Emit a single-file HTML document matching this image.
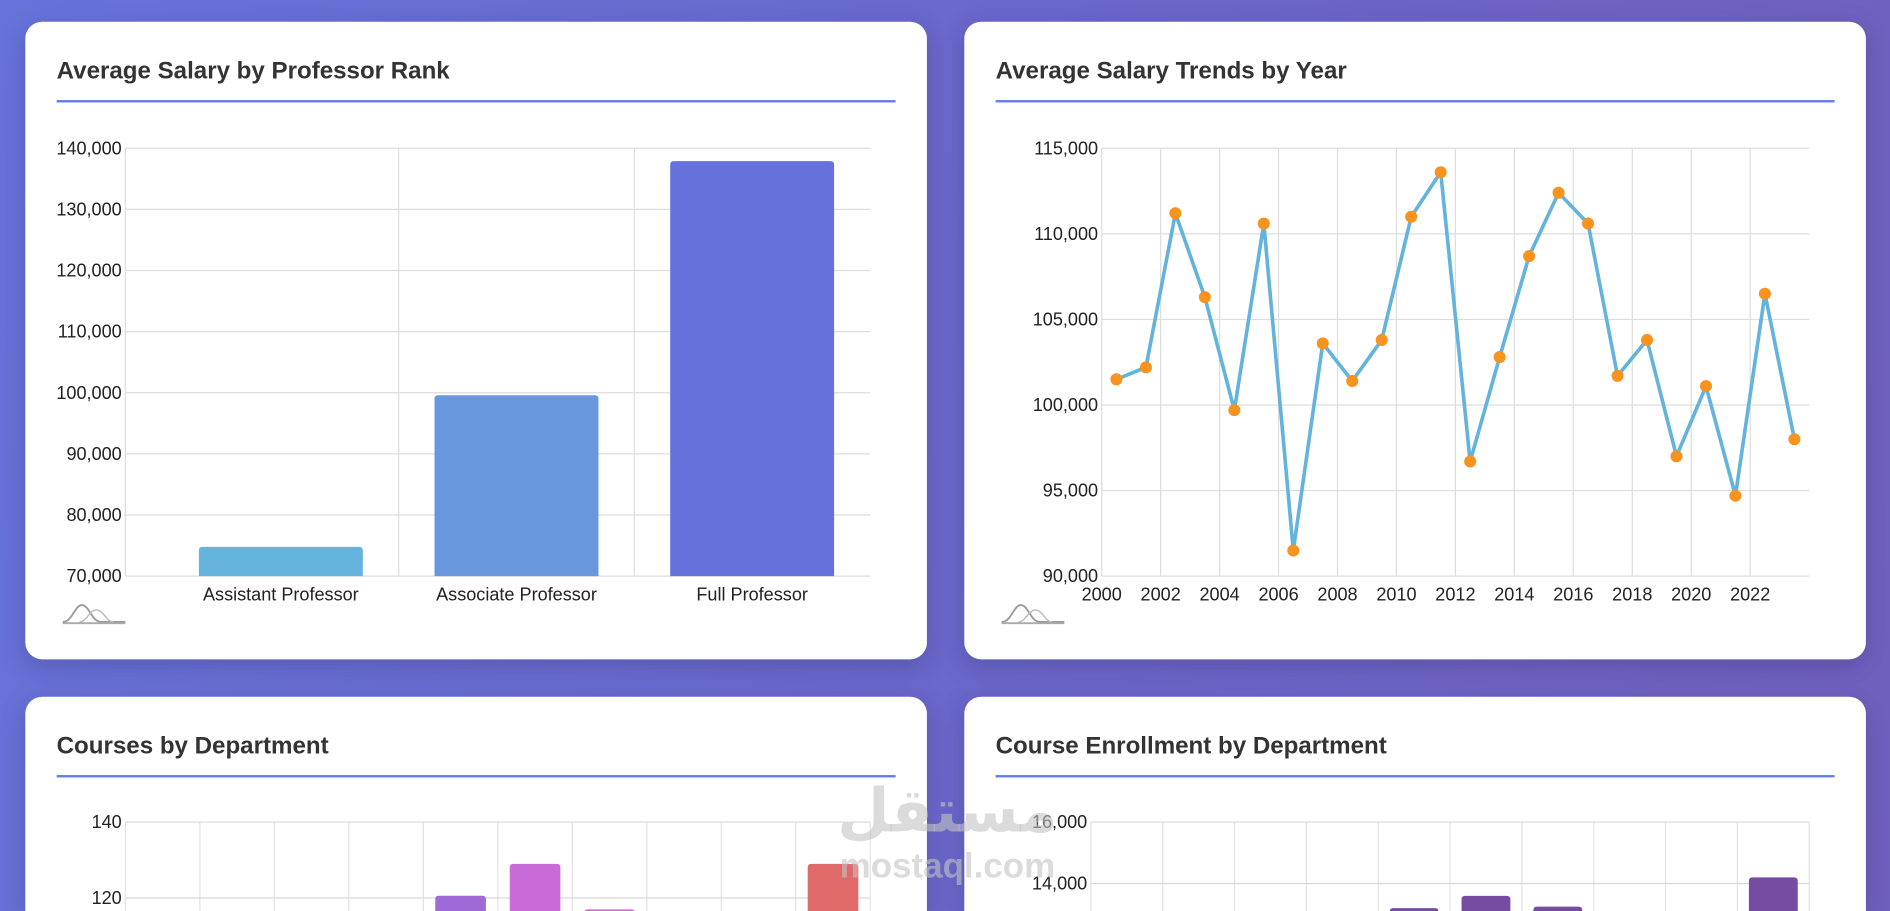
<!DOCTYPE html>
<html><head><meta charset="utf-8">
<style>
html,body{margin:0;padding:0;width:1890px;height:911px;overflow:hidden;}
#clip{position:fixed;left:0;top:0;width:1890px;height:911px;overflow:hidden;background:linear-gradient(100deg,#6773d9 0%,#6a68cb 50%,#7060bd 100%);font-family:"Liberation Sans","DejaVu Sans",sans-serif;}
#wrap{position:absolute;left:0;top:0;width:1568px;height:756px;overflow:hidden;transform:scale(1.20536);transform-origin:0 0;}
.card{position:absolute;background:#fff;border-radius:14px;box-shadow:0 6px 20px rgba(40,30,90,0.25);}
.card.bot{border-radius:14px 14px 0 0;}
.title{position:absolute;left:26px;top:30px;font-weight:bold;font-size:20px;color:#333;}
.rule{position:absolute;left:26px;right:26px;top:65px;height:2px;background:#667eea;}
svg{position:absolute;left:0;top:0;}
svg text{font-family:"Liberation Sans","DejaVu Sans",sans-serif;}
</style></head><body>
<div id="clip">
<div id="wrap">
<div class="card" style="left:21px;top:18px;width:748px;height:529px;">
 <div class="title">Average Salary by Professor Rank</div>
 <div class="rule"></div>
</div>
<div class="card" style="left:800px;top:18px;width:748px;height:529px;">
 <div class="title">Average Salary Trends by Year</div>
 <div class="rule"></div>
</div>
<div class="card bot" style="left:21px;top:578px;width:748px;height:178px;">
 <div class="title">Courses by Department</div>
 <div class="rule"></div>
</div>
<div class="card bot" style="left:800px;top:578px;width:748px;height:178px;">
 <div class="title">Course Enrollment by Department</div>
 <div class="rule"></div>
</div>
<svg id="chart" width="1568" height="756"></svg>
<div style="position:absolute;left:686px;top:642px;width:200px;text-align:center;color:rgba(195,195,195,0.6);font-weight:bold;">
 <div style="font-size:50px;line-height:62px;font-family:'DejaVu Sans',sans-serif;">مستقل</div>
 <div style="font-size:29px;line-height:30px;">mostaql.com</div>
</div>
</div>
</div>
<script>
// Chart 1 data
const rankCats = ["Assistant Professor","Associate Professor","Full Professor"];
const rankVals = [74800, 99600, 137900];
const rankTicks = [70000,80000,90000,100000,110000,120000,130000,140000];
// Chart 2 data
const years = [2000,2001,2002,2003,2004,2005,2006,2007,2008,2009,2010,2011,2012,2013,2014,2015,2016,2017,2018,2019,2020,2021,2022,2023];
const yearVals = [101500,102200,111200,106300,99700,110600,91500,103600,101400,103800,111000,113600,96700,102800,108700,112400,110600,101700,103800,97000,101100,94700,106500,98000];
const trendTicks = [90000,95000,100000,105000,110000,115000];
const yearTicks = [2000,2002,2004,2006,2008,2010,2012,2014,2016,2018,2020,2022];
// Chart 3 data
const deptCats = ["D1","D2","D3","D4","D5","D6","D7","D8","D9","D10"];
const courseVals = [100,100,100,100,120.6,129,117,100,100,129];
const courseTicks = [120,140];
// Chart 4 data
const enrollVals = [11000,11000,11000,11000,13200,13600,13250,11000,11000,14200];
const enrollTicks = [14000,16000];

const svg = document.getElementById('chart');
const NS = 'http://www.w3.org/2000/svg';
function mk(tag, attrs, parent){const e=document.createElementNS(NS,tag);for(const k in attrs)e.setAttribute(k,attrs[k]);(parent||svg).appendChild(e);return e;}
function fmt(v){return v.toLocaleString('en-US');}
function lin(d0,d1,r0,r1){return v=>r0+(v-d0)/(d1-d0)*(r1-r0);}

// ---- Chart 1 ----
(function(){
 const x0=104,x1=722,y0=123,y1=478;
 const y=lin(70000,140000,y1,y0);
 const c0=233,step=195.5,bw=136;
 const cx=i=>c0+i*step;
 const g=mk('g',{});
 const l0=mk('line',{x1:x0,x2:x0,y1:y0,y2:y1,stroke:'#ddd'},g);
 
 
 for(let i=0;i<rankCats.length-1;i++){const gx=cx(i)+step/2;const l=mk('line',{x1:gx,x2:gx,y1:y0,y2:y1,stroke:'#ddd'},g);
  
  }
 rankTicks.forEach(t=>{const l=mk('line',{x1:x0,x2:x1,y1:y(t),y2:y(t),stroke:'#ddd'},g);
  
  
  const tx=mk('text',{x:x0-3,y:y(t)+5,'text-anchor':'end','font-size':15,fill:'#222'},g);tx.textContent=fmt(t);
  
  });
 const cols=['#63b3dc','#6897dd','#6771db'];
 rankCats.forEach((c,i)=>{const bx=cx(i)-bw/2;
  const r=mk('path',{d:`M${bx},${y1}V${y(rankVals[i])+3}q0,-3 3,-3h${bw-6}q3,0 3,3V${y1}Z`,fill:cols[i]},g);
  
  
  const tx=mk('text',{x:cx(i),y:y1+20,'text-anchor':'middle','font-size':15,fill:'#222'},g);tx.textContent=c;
  
  });
})();

// ---- Chart 2 ----
(function(){
 const x0=914,x1=1501,y0=123,y1=478;
 const y=lin(90000,115000,y1,y0);
 const x=lin(2000,2022,914,1452);
 const g=mk('g',{});
 yearTicks.forEach(t=>{const l=mk('line',{x1:x(t),x2:x(t),y1:y0,y2:y1,stroke:'#ddd'},g);
  
  
  const tx=mk('text',{x:x(t),y:y1+20,'text-anchor':'middle','font-size':15,fill:'#222'},g);tx.textContent=t;
  
  });
 trendTicks.forEach(t=>{const l=mk('line',{x1:x0,x2:x1,y1:y(t),y2:y(t),stroke:'#ddd'},g);
  
  
  const tx=mk('text',{x:x0-3,y:y(t)+5,'text-anchor':'end','font-size':15,fill:'#222'},g);tx.textContent=fmt(t);
  
  });
 const pts=years.map((yr,i)=>[x(yr+0.5),y(yearVals[i])]);
 const pl=mk('polyline',{points:pts.map(p=>p.join(',')).join(' '),fill:'none',stroke:'#63b3dc','stroke-width':3,'stroke-linejoin':'miter'},g);
 
 
 pts.forEach((p,i)=>{const c=mk('circle',{cx:p[0],cy:p[1],r:5,fill:'#f7931e'},g);
  
  });
})();

// ---- Logos ----
[[52,502],[831,502]].forEach(([lx,ly])=>{
 const g=mk('g',{},svg);
 
 
 mk('path',{d:`M${lx},${ly+14}c8,0 10,-14 16,-14c6,0 8,14 16,14h20`,fill:'none',stroke:'#999','stroke-width':1.5},g);
 mk('path',{d:`M${lx+14},${ly+14}c6,0 8,-10 14,-10c6,0 8,10 14,10`,fill:'none',stroke:'#bbb','stroke-width':1.2},g);
 mk('line',{x1:lx,x2:lx+52,y1:ly+15,y2:ly+15,stroke:'#aaa','stroke-width':1.5},g);
});

// ---- Bottom charts ----
const BOTTOM=756;
function bottom(x0,x1,vals,ticks,dmin,dmax,pxTop,pxBottom,cols,name){
 const y=lin(dmin,dmax,pxBottom,pxTop);
 const bw=(x1-x0)/deptCats.length;
 const g=mk('g',{});
 for(let i=0;i<=deptCats.length;i++){const l=mk('line',{x1:x0+i*bw,x2:x0+i*bw,y1:682,y2:BOTTOM,stroke:'#e2e2e2'},g);
  
  }
 ticks.forEach(t=>{const l=mk('line',{x1:x0,x2:x1,y1:y(t),y2:y(t),stroke:'#d8d8d8'},g);
  
  
  const tx=mk('text',{x:x0-3,y:y(t)+5,'text-anchor':'end','font-size':15,fill:'#222'},g);tx.textContent=fmt(t);
  
  });
 vals.forEach((v,i)=>{const bx=x0+i*bw+bw*0.16,w=bw*0.68;
  const top=Math.min(y(v),BOTTOM);
  const r=mk('path',{d:`M${bx},${BOTTOM}V${top+3}q0,-3 3,-3h${w-6}q3,0 3,3V${BOTTOM}Z`,fill:cols[i]},g);
  
  });
}
bottom(104,722,courseVals,courseTicks,120,140,682,745,['#6a8fd8','#6a80d8','#7070d8','#8a6ad8','#9f6ad8','#c86ad8','#d46ad0','#d86aa0','#e06a80','#e06a6a'],'courses');
bottom(905,1501,enrollVals,enrollTicks,14000,16000,682,733,Array(10).fill('#764ba2'),'enrollment');
</script>
</body></html>
